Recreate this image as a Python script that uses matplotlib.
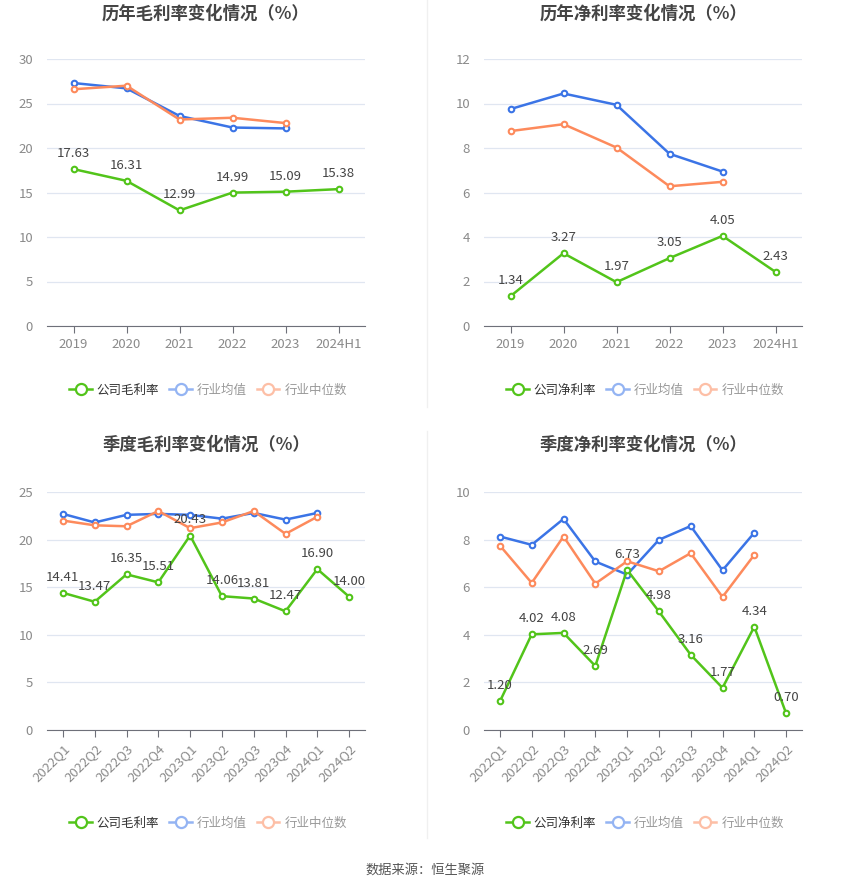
import matplotlib
matplotlib.use("Agg")
import matplotlib.pyplot as plt
from matplotlib.lines import Line2D

plt.rcParams['font.family'] = ['Noto Sans CJK SC', 'DejaVu Sans']

# ---- data ----
years = ["2019", "2020", "2021", "2022", "2023", "2024H1"]
gross_company = [17.63, 16.31, 12.99, 14.99, 15.09, 15.38]
gross_avg = [27.3, 26.7, 23.6, 22.3, 22.2]
gross_median = [26.6, 27.0, 23.2, 23.4, 22.8]

net_company = [1.34, 3.27, 1.97, 3.05, 4.05, 2.43]
net_avg = [9.75, 10.45, 9.94, 7.74, 6.94]
net_median = [8.76, 9.07, 8.02, 6.28, 6.48]

quarters = ["2022Q1", "2022Q2", "2022Q3", "2022Q4", "2023Q1",
            "2023Q2", "2023Q3", "2023Q4", "2024Q1", "2024Q2"]
q_gross_company = [14.41, 13.47, 16.35, 15.51, 20.43, 14.06, 13.81, 12.47, 16.90, 14.00]
q_gross_avg = [22.7, 21.8, 22.6, 22.7, 22.6, 22.2, 22.8, 22.1, 22.8]
q_gross_median = [22.0, 21.5, 21.4, 23.0, 21.2, 21.8, 23.0, 20.6, 22.4]

q_net_company = [1.20, 4.02, 4.08, 2.69, 6.73, 4.98, 3.16, 1.77, 4.34, 0.70]
q_net_avg = [8.13, 7.78, 8.87, 7.08, 6.53, 7.99, 8.57, 6.71, 8.29]
q_net_median = [7.75, 6.18, 8.13, 6.15, 7.09, 6.67, 7.43, 5.59, 7.36]

GREEN = "#52c41a"
BLUE = "#3b74e6"
ORANGE = "#fd8a5c"
W, H = 850, 891

fig = plt.figure(figsize=(W / 100, H / 100), dpi=100)


def px_axes(x0, y0, x1, y1):
    return fig.add_axes([x0 / W, 1 - y1 / H, (x1 - x0) / W, (y1 - y0) / H])


def draw(ax, cats, comp, avg, med, ymax, step, rotate=False):
    x = list(range(len(cats)))
    ax.set_xlim(-0.5, len(cats) - 0.5)
    ax.set_ylim(0, ymax)
    ax.set_yticks([i * step for i in range(int(ymax / step) + 1)])
    ax.grid(axis="y", color="#e0e6f1", linewidth=0.9)
    ax.set_axisbelow(True)
    for s in ["top", "right", "left"]:
        ax.spines[s].set_visible(False)
    ax.spines["bottom"].set_color("#6e7079")
    ax.tick_params(axis="y", length=0, colors="#8a8a8a", labelsize=9.5, pad=10)
    ax.tick_params(axis="x", length=5, color="#6e7079", colors="#8a8a8a", labelsize=9.5)
    ax.set_xticks(x)
    if rotate:
        ax.set_xticklabels(cats, rotation=45, ha="right", rotation_mode="anchor")
    else:
        ax.set_xticklabels(cats)
    mk = dict(marker="o", markersize=4, markerfacecolor="white", markeredgewidth=1.5, linewidth=1.8)
    ax.plot(x[:len(avg)], avg, color=BLUE, **mk, zorder=3)
    ax.plot(x[:len(med)], med, color=ORANGE, **mk, zorder=3)
    ax.plot(x, comp, color=GREEN, **mk, zorder=4)
    for xi, v in zip(x, comp):
        ax.annotate(f"{v:.2f}", (xi, v), xytext=(0, 6.5), textcoords="offset points",
                    ha="center", va="bottom", fontsize=9.5, color="#444444", zorder=5)


ax1 = px_axes(47, 59, 365, 326)
draw(ax1, years, gross_company, gross_avg, gross_median, 30, 5)
ax2 = px_axes(484, 59, 802, 326)
draw(ax2, years, net_company, net_avg, net_median, 12, 2)
ax3 = px_axes(47, 492, 365, 730)
draw(ax3, quarters, q_gross_company, q_gross_avg, q_gross_median, 25, 5, rotate=True)
ax4 = px_axes(484, 492, 802, 730)
draw(ax4, quarters, q_net_company, q_net_avg, q_net_median, 10, 2, rotate=True)

titles = [("历年毛利率变化情况（%）", 206, 14), ("历年净利率变化情况（%）", 643, 14),
          ("季度毛利率变化情况（%）", 206, 445), ("季度净利率变化情况（%）", 643, 445)]
for t, cx, cy in titles:
    fig.text(cx / W, 1 - cy / H, t, ha="center", va="center", fontsize=12.5,
             fontweight="bold", color="#444444")

# divider
fig.add_artist(Line2D([427 / W, 427 / W], [1 - 0 / H, 1 - 407 / H], color="#f0f0f0", linewidth=1))
fig.add_artist(Line2D([427 / W, 427 / W], [1 - 431 / H, 1 - 838 / H], color="#f0f0f0", linewidth=1))


def legend(cx, cy, first):
    hmk = dict(marker="o", markersize=8, markerfacecolor="white", markeredgewidth=1.6, linewidth=1.8)
    handles = [Line2D([], [], color=GREEN, **hmk),
               Line2D([], [], color="#94b4f3", **hmk),
               Line2D([], [], color="#fdbfa6", **hmk)]
    lg = fig.legend(handles, [first, "行业均值", "行业中位数"], loc="center",
                    bbox_to_anchor=(cx / W, 1 - cy / H), ncol=3, frameon=False,
                    fontsize=9, handlelength=1.8, handletextpad=0.4, columnspacing=0.8)
    cols = ["#333333", "#999999", "#999999"]
    for txt, c in zip(lg.get_texts(), cols):
        txt.set_color(c)


legend(208, 390, "公司毛利率")
legend(645, 390, "公司净利率")
legend(208, 823, "公司毛利率")
legend(645, 823, "公司净利率")

fig.text(425 / W, 1 - 870 / H, "数据来源：恒生聚源", ha="center", va="center",
         fontsize=9.5, color="#555555")

fig.savefig("out.png", dpi=100)
